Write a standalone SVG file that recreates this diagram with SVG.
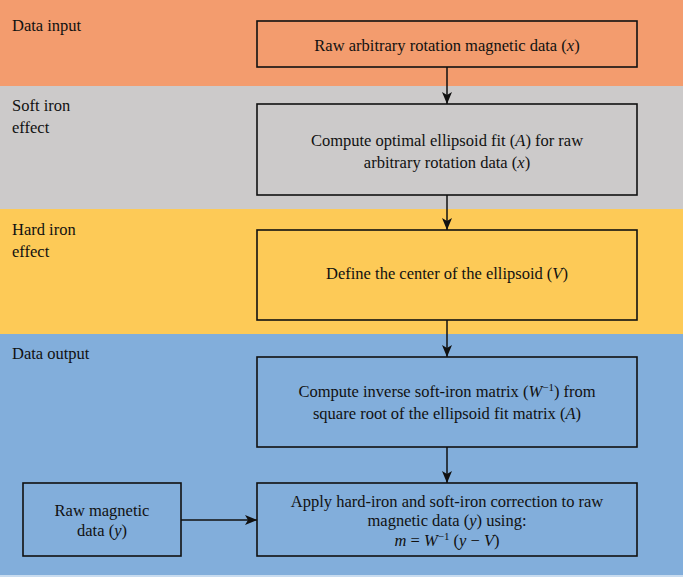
<svg xmlns="http://www.w3.org/2000/svg" width="683" height="577" viewBox="0 0 683 577">
<style>
text{font-family:"Liberation Serif","Times New Roman",serif;font-size:16.5px;fill:#111;}
.c{text-anchor:middle;}
.i{font-style:italic;}
.box{fill:none;stroke:#111;stroke-width:1.6;}
.con{stroke:#111;stroke-width:1.5;fill:none;}
</style>
<defs>
<marker id="ah" viewBox="0 0 12 10" refX="12" refY="5" markerWidth="12" markerHeight="10" markerUnits="userSpaceOnUse" orient="auto">
<path d="M0,0 L12,5 L0,10 L3,5 Z" fill="#111"/>
</marker>
</defs>
<g id="bands">
<rect x="0" y="0" width="683" height="86" fill="#F39C6E"/>
<rect x="0" y="86" width="683" height="123" fill="#CCCACA"/>
<rect x="0" y="209" width="683" height="125" fill="#FDCA57"/>
<rect x="0" y="334" width="683" height="241" fill="#82AEDB"/>
<rect x="0" y="575" width="683" height="2" fill="#C9DCEF"/>
</g>
<g id="lane-labels">
<text x="12" y="31">Data input</text>
<text x="12" y="111">Soft iron</text>
<text x="12" y="133">effect</text>
<text x="12" y="235">Hard iron</text>
<text x="12" y="257">effect</text>
<text x="12" y="359">Data output</text>
</g>
<g id="connectors">
<line class="con" x1="447" y1="67" x2="447" y2="104" marker-end="url(#ah)"/>
<line class="con" x1="447" y1="195" x2="447" y2="230" marker-end="url(#ah)"/>
<line class="con" x1="447" y1="320" x2="447" y2="357" marker-end="url(#ah)"/>
<line class="con" x1="447" y1="447" x2="447" y2="483" marker-end="url(#ah)"/>
<line class="con" x1="181" y1="520" x2="257" y2="520" marker-end="url(#ah)"/>
</g>
<g id="n1">
<rect class="box" x="257" y="21" width="380" height="46"/>
<text class="c" x="447" y="51">Raw arbitrary rotation magnetic data (<tspan class="i">x</tspan>)</text>
</g>
<g id="n2">
<rect class="box" x="257" y="104" width="380" height="91"/>
<text class="c" x="447" y="146">Compute optimal ellipsoid fit (<tspan class="i">A</tspan>) for raw</text>
<text class="c" x="447" y="168">arbitrary rotation data (<tspan class="i">x</tspan>)</text>
</g>
<g id="n3">
<rect class="box" x="257" y="230" width="380" height="90"/>
<text class="c" x="447" y="279">Define the center of the ellipsoid (<tspan class="i">V</tspan>)</text>
</g>
<g id="n4">
<rect class="box" x="257" y="357" width="380" height="90"/>
<text class="c" x="447" y="397">Compute inverse soft-iron matrix (<tspan class="i">W</tspan><tspan font-size="11" dy="-6">−1</tspan><tspan dy="6">) from</tspan></text>
<text class="c" x="447" y="419">square root of the ellipsoid fit matrix (<tspan class="i">A</tspan>)</text>
</g>
<g id="n5">
<rect class="box" x="257" y="483" width="380" height="73"/>
<text class="c" x="447" y="507">Apply hard-iron and soft-iron correction to raw</text>
<text class="c" x="447" y="526">magnetic data (<tspan class="i">y</tspan>) using:</text>
<text class="c" x="447" y="546"><tspan class="i">m</tspan> = <tspan class="i">W</tspan><tspan font-size="11" dy="-6">−1</tspan><tspan dy="6"> (</tspan><tspan class="i">y</tspan> − <tspan class="i">V</tspan>)</text>
</g>
<g id="n6">
<rect class="box" x="23" y="483" width="158" height="73"/>
<text class="c" x="102" y="516">Raw magnetic</text>
<text class="c" x="102" y="536">data (<tspan class="i">y</tspan>)</text>
</g>
</svg>
